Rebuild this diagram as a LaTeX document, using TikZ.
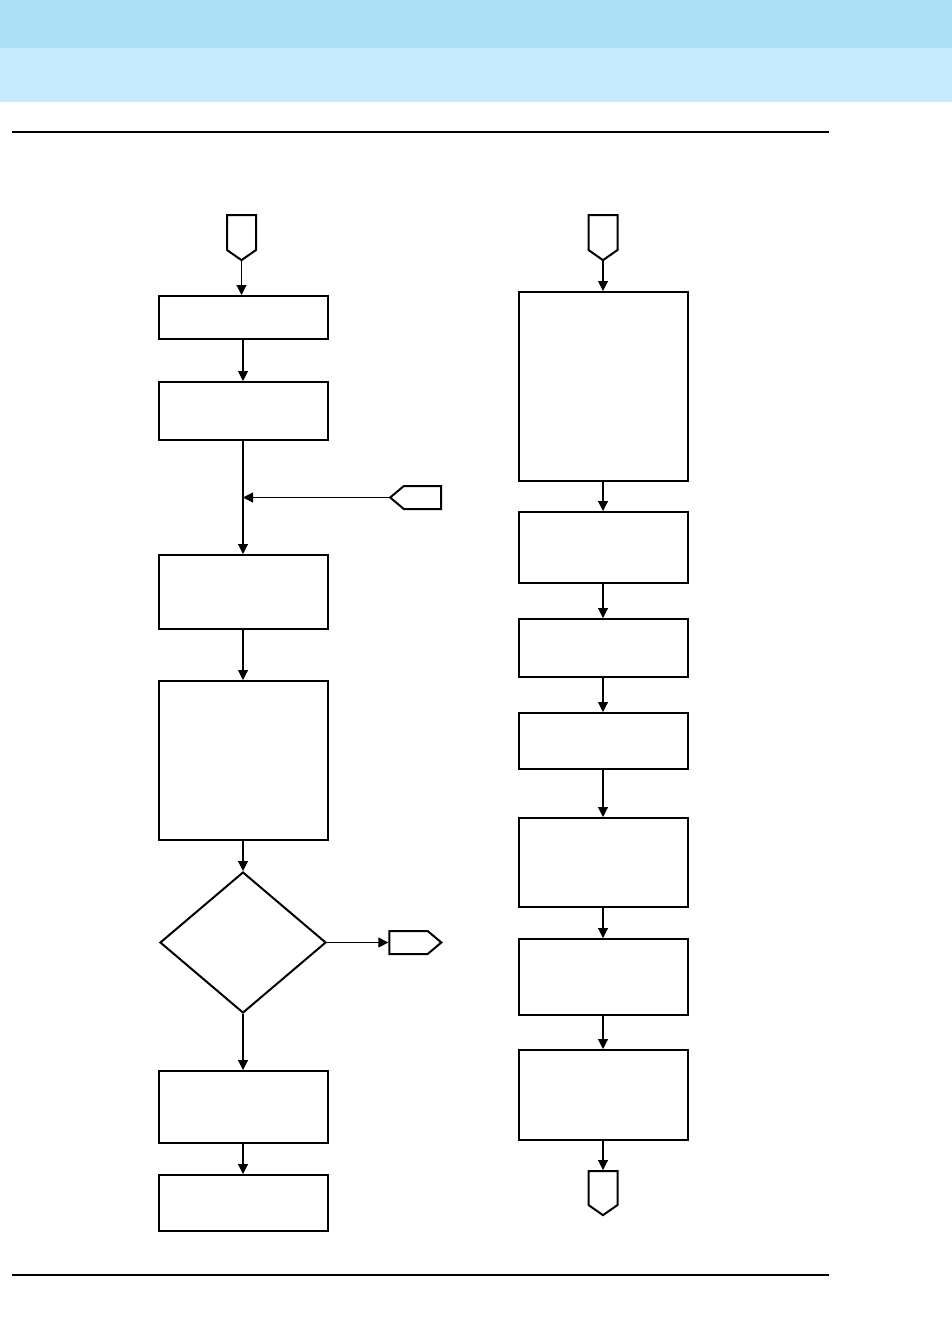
\documentclass[tikz,border=0pt]{standalone}
\usepackage{tikz}
\usetikzlibrary{arrows.meta,shapes.geometric,shapes.symbols}
\definecolor{bandtop}{HTML}{ADDFF6}
\definecolor{bandlow}{HTML}{C5EBFD}

\begin{document}
\begin{tikzpicture}[x=1pt, y=-1pt,
    procbox/.style={draw, line width=2pt, minimum width=169pt, inner sep=0pt},
    decbox/.style={draw, diamond, line width=2pt, minimum width=166pt, minimum height=141pt, inner sep=0pt},
    offpage/.style={draw, signal, line width=2pt, inner sep=0pt},
    flow/.style={line width=1.1pt, -{Triangle[length=10pt,width=10pt]}}]
    \useasboundingbox (0,0) rectangle (952,1326);

    % Header bands and rules
    \fill[bandtop] (0,0) rectangle (952,48);
    \fill[bandlow] (0,48) rectangle (952,102);
    \draw[line width=2.5pt] (12,132) -- (829,132);
    \draw[line width=1.3pt] (12,1275) -- (829,1275);

    % Left column
    \node[offpage, signal to=south, signal pointer angle=110, minimum width=29pt, minimum height=35pt] (lin) at (241.5,232.5) {};
    \node[procbox, minimum height=43pt] (l1) at (243,317.5) {};
    \node[procbox, minimum height=58pt] (l2) at (243,411) {};
    \coordinate (lmerge) at (243,497.5);
    \node[offpage, signal to=west, signal pointer angle=80, minimum width=51pt, minimum height=23pt] (lret) at (422.5,497.5) {};
    \node[procbox, minimum height=74pt] (l3) at (243,592) {};
    \node[procbox, minimum height=159pt] (l4) at (243,760.5) {};
    \node[decbox] (ldec) at (243,942.5) {};
    \node[offpage, signal to=east, signal pointer angle=80, minimum width=52pt, minimum height=23pt] (lout) at (408.5,942.5) {};
    \node[procbox, minimum height=72pt] (l5) at (243,1107) {};
    \node[procbox, minimum height=56pt] (l6) at (243,1203) {};

    \draw[flow] (lin) -- (lin |- l1.north);
    \draw[flow] (l1) -- (l2);
    \draw[flow] (l2) -- (l3);
    \draw[flow] (lret) -- (lmerge);
    \draw[flow] (l3) -- (l4);
    \draw[flow] (l4) -- (ldec);
    \draw[flow] (ldec) -- (lout);
    \draw[flow] (ldec) -- (l5);
    \draw[flow] (l5) -- (l6);

    % Right column
    \node[offpage, signal to=south, signal pointer angle=110, minimum width=29pt, minimum height=35pt] (rin) at (603,232.5) {};
    \node[procbox, minimum height=189pt] (r1) at (603,386.5) {};
    \node[procbox, minimum height=71pt] (r2) at (603,547.5) {};
    \node[procbox, minimum height=58pt] (r3) at (603,648) {};
    \node[procbox, minimum height=56pt] (r4) at (603,741) {};
    \node[procbox, minimum height=89pt] (r5) at (603,862.5) {};
    \node[procbox, minimum height=76pt] (r6) at (603,977) {};
    \node[procbox, minimum height=90pt] (r7) at (603,1095) {};
    \node[offpage, signal to=south, signal pointer angle=110, minimum width=29pt, minimum height=34pt] (rout) at (603,1188) {};

    \draw[flow] (rin) -- (r1);
    \draw[flow] (r1) -- (r2);
    \draw[flow] (r2) -- (r3);
    \draw[flow] (r3) -- (r4);
    \draw[flow] (r4) -- (r5);
    \draw[flow] (r5) -- (r6);
    \draw[flow] (r6) -- (r7);
    \draw[flow] (r7) -- (rout);
\end{tikzpicture}
\end{document}
